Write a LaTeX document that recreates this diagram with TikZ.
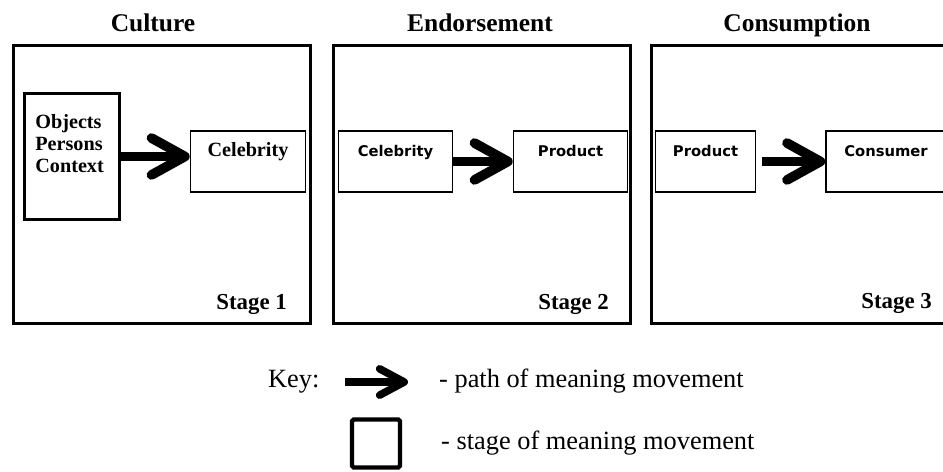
\documentclass[tikz,border=0pt]{standalone}
\usepackage{fontspec}
\setmainfont{Liberation Serif}
\newfontfamily\boxfont{DejaVu Sans}
\usetikzlibrary{arrows.meta}

\begin{document}
\begin{tikzpicture}[x=0.02cm,y=-0.02cm]
\tikzset{stagebox/.style = {draw, line width=1.7pt, minimum width=5.94cm, minimum height=5.56cm}}
\tikzset{serifbox/.style = {draw, line width=0.9pt, inner ysep=0pt, text height=14.5pt, text depth=20pt, font=\fontsize{11.5}{12.5}\selectfont\bfseries}}
\tikzset{sansbox/.style = {serifbox, font=\boxfont\fontsize{8.4}{10}\selectfont\bfseries}}
\tikzset{heading/.style = {anchor=base, font=\fontsize{14.5}{16}\selectfont\bfseries}}
\tikzset{stagelabel/.style = {anchor=base east, font=\fontsize{13}{15}\selectfont\bfseries}}
\tikzset{keytext/.style = {anchor=base west, font=\fontsize{15}{17}\selectfont}}
\tikzset{meaning/.style = {line width=5.5pt, -{Straight Barb[length=19pt, width=21pt, round]}}}

\clip (0,0) rectangle (943,472);

% stages

\node[stagebox] (culture) at (162,184.5) {};
\node[stagebox] (endorse) at (482,184.5) {};
\node[stagebox] (consume) at (800,184.5) {};

\node[heading] (culturetitle) at (153,32) {Culture};
\node[heading] (endorsetitle) at (480,32) {Endorsement};
\node[heading] (consumetitle) at (797,32) {Consumption};

\node[stagelabel] (stage1) at (293,310) {Stage 1};
\node[stagelabel] (stage2) at (615,310) {Stage 2};
\node[stagelabel] (stage3) at (938,309) {Stage 3};

% boxes

\node[draw, line width=1.7pt, minimum width=1.9cm, minimum height=2.52cm] (objects) at (72,156.5) {};
\node[anchor=north west, inner sep=0pt, align=left, font=\fontsize{11.5}{12.5}\selectfont\bfseries] (objtext) at (35,114) {Objects\\Persons\\Context};
\node[serifbox, minimum width=2.3cm] (celeb1) at (248,161.5) {Celebrity};

\node[sansbox, minimum width=2.28cm] (celeb2) at (395.5,161.5) {Celebrity};
\node[sansbox, minimum width=2.28cm] (prod2) at (570.5,161.5) {Product};

\node[sansbox, minimum width=2.0cm] (prod3) at (705.5,161.5) {Product};
\node[sansbox, minimum width=2.4cm] (consumer) at (886,161.5) {Consumer};

% paths

\draw[meaning] (objects.east) -- (objects.east -| celeb1.west);
\draw[meaning] (celeb2.east) -- (prod2.west);
\draw[meaning, shorten <=3.4pt] (prod3.east) -- (consumer.west);

% key

\node[keytext] (keyword) at (262,388) {Key:};
\coordinate (keystart) at (345,382);
\coordinate (keyend) at (408,382);
\draw[line width=4.3pt, -{Straight Barb[length=14pt, width=15pt, round]}] (keystart) -- (keyend);
\node[keytext] (keypath) at (433,388) {- path of meaning movement};

\node[draw, line width=2.5pt, rounded corners=1pt, minimum size=0.96cm] (keybox) at (376,443.5) {};
\node[keytext] (keystage) at (435,450) {- stage of meaning movement};
\end{tikzpicture}
\end{document}
